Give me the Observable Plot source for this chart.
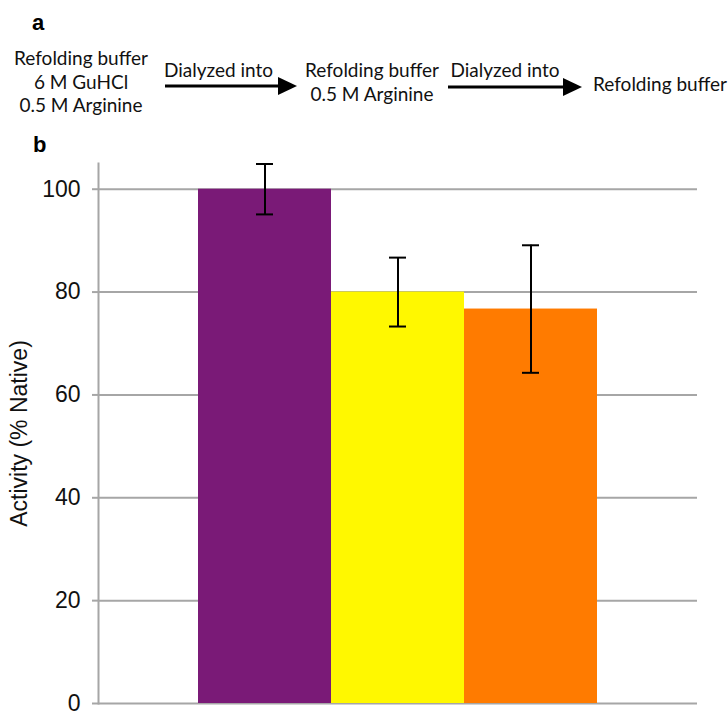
<!DOCTYPE html>
<html>
<head>
<meta charset="utf-8">
<script src="https://cdn.jsdelivr.net/npm/d3@7"></script>
<script src="https://cdn.jsdelivr.net/npm/@observablehq/plot@0.6"></script>
<style>
  html, body { margin: 0; padding: 0; background: #fff; overflow: hidden; }
  #fig { position: relative; width: 728px; height: 711px; }
  #scheme { position: absolute; left: 0; top: 0; pointer-events: none; }
  #chart { position: absolute; left: 0; top: 130px; }
  .scheme-text { font-family: Lato, "Open Sans", sans-serif; font-size: 19px; fill: #111; }
  .panel { font-family: "Liberation Sans", Arial, sans-serif; font-weight: bold; font-size: 22px; fill: #000; }
</style>
</head>
<body>
<div id="fig">
  <div id="chart"></div>
  <svg id="scheme" width="728" height="160" xmlns="http://www.w3.org/2000/svg">
    <text class="panel" x="32" y="30">a</text>
    <text class="panel" x="33" y="152">b</text>
    <g class="scheme-text" text-anchor="middle">
      <text x="81" y="65">Refolding buffer</text>
      <text x="81" y="88.5">6 M GuHCl</text>
      <text x="81" y="111.5">0.5 M Arginine</text>
      <text x="218.5" y="77">Dialyzed into</text>
      <text x="372" y="77">Refolding buffer</text>
      <text x="372" y="101">0.5 M Arginine</text>
      <text x="505" y="77">Dialyzed into</text>
      <text x="660" y="91">Refolding buffer</text>
    </g>
    <g stroke="#000" stroke-width="3">
      <line x1="165" y1="86" x2="281" y2="86"/>
      <line x1="448" y1="87" x2="565" y2="87"/>
    </g>
    <g fill="#000">
      <polygon points="278,77 297,86 278,95"/>
      <polygon points="563,78 582,87 563,96"/>
    </g>
  </svg>
</div>
<script>
// Refolding stages (buffer the enzyme ends up in) and measured activity
const conditions = ["6 M GuHCl + 0.5 M Arginine", "0.5 M Arginine", "Refolding buffer"];
const activity = [100, 80, 76.7];
const errorBars = [4.9, 6.7, 12.4];
const barColors = ["#7a1a77", "#fff800", "#ff7b00"];
const yTicks = [0, 20, 40, 60, 80, 100];

const rows = conditions.map((c, i) => ({
  condition: c,
  activity: activity[i],
  lo: activity[i] - errorBars[i],
  hi: activity[i] + errorBars[i]
}));

const gridColor = "#a6a6a6";

const chart = Plot.plot({
  width: 728,
  height: 581,
  marginLeft: 98,
  marginRight: 31,
  marginTop: 33,
  marginBottom: 8,
  style: { fontFamily: "'Liberation Sans', Arial, sans-serif", background: "white" },
  x: { domain: conditions, paddingInner: 0, paddingOuter: 0.75, axis: null },
  y: { domain: [0, 105] },
  color: { domain: conditions, range: barColors },
  marks: [
    Plot.gridY(yTicks, { stroke: gridColor, strokeOpacity: 1, strokeWidth: 2 }),
    Plot.frame({ anchor: "left", stroke: gridColor, strokeWidth: 2 }),
    Plot.axisY(yTicks, {
      tickSize: 6,
      tickPadding: 12,
      stroke: gridColor,
      strokeWidth: 2,
      fill: "#111",
      fontSize: 23,
      tickFormat: d => String(d),
      label: "Activity (% Native)",
      labelAnchor: "center",
      labelArrow: "none",
      labelOffset: 88
    }),
    Plot.barY(rows, { x: "condition", y: "activity", fill: "condition" }),
    Plot.ruleX(rows, { x: "condition", y1: "lo", y2: "hi", stroke: "#000", strokeWidth: 2 }),
    Plot.tickY(rows, { x: "condition", y: "hi", stroke: "#000", strokeWidth: 2, insetLeft: 58, insetRight: 58 }),
    Plot.tickY(rows, { x: "condition", y: "lo", stroke: "#000", strokeWidth: 2, insetLeft: 58, insetRight: 58 })
  ]
});

document.getElementById("chart").appendChild(chart);
</script>
</body>
</html>
